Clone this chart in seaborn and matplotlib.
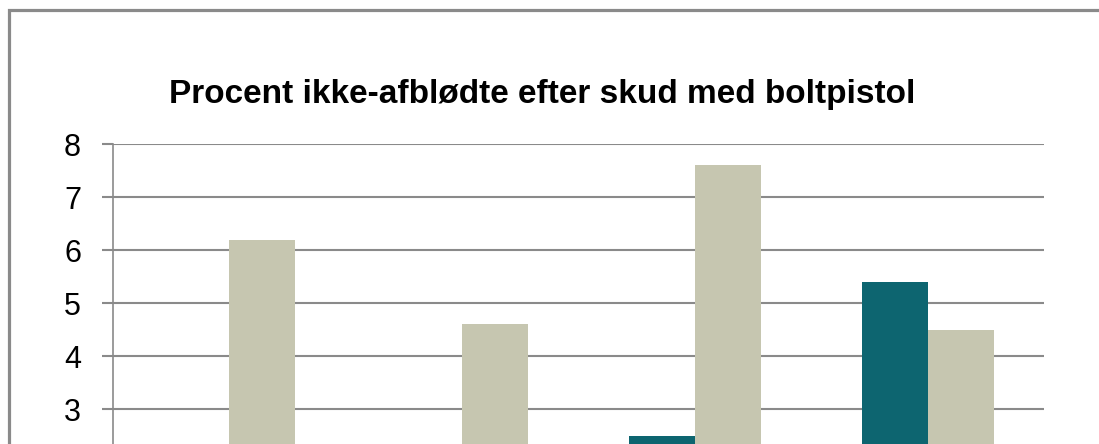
import matplotlib
matplotlib.use("Agg")
import matplotlib.pyplot as plt
from matplotlib.patches import Rectangle
import pandas as pd
import seaborn as sns

# Values (bottom of chart is cut off in the reference,
# so the first two teal bars are below the visible range - estimated)
categories = ["Gruppe 1", "Gruppe 2", "Gruppe 3", "Gruppe 4"]
series_names = ["Serie 1", "Serie 2"]
serie1 = [1.0, 1.5, 2.5, 5.4]
serie2 = [6.2, 4.6, 7.6, 4.5]
y_ticks = [3, 4, 5, 6, 7, 8]  # 0-2 fall below the visible crop
title = "Procent ikke-afblødte efter skud med boltpistol"

df = pd.DataFrame({
    "kategori": categories * 2,
    "serie": [series_names[0]] * 4 + [series_names[1]] * 4,
    "procent": serie1 + serie2,
})

sns.set_style("white")
plt.rcParams["font.family"] = ["Liberation Sans", "DejaVu Sans"]
plt.rcParams["text.color"] = "black"
plt.rcParams["ytick.labelcolor"] = "black"

fig = plt.figure(figsize=(10.99, 4.44), dpi=100)
# axes runs below the bottom of the figure, like the cropped original
ax = fig.add_axes([113 / 1099, -124.3 / 444, 931 / 1099, 424 / 444])

sns.barplot(data=df, x="kategori", y="procent", hue="serie",
            palette=["#0D6570", "#C6C6B0"], width=0.567, saturation=1,
            linewidth=0, edgecolor="none", legend=False, ax=ax, zorder=3)

ax.set_ylim(0, 8)
ax.set_xlim(-0.5, 3.5)
ax.set_yticks(y_ticks)
ax.set_xlabel("")
ax.set_ylabel("")
ax.yaxis.grid(True, color="#8A8A8A", linewidth=1.5, zorder=0)
ax.set_axisbelow(True)
ax.tick_params(axis="y", length=8, width=1.5, color="#8A8A8A",
               labelsize=22, pad=15, left=True, labelcolor="black")
ax.tick_params(axis="x", length=0, labelbottom=False)
for s in ["top", "right", "bottom"]:
    ax.spines[s].set_visible(False)
ax.spines["left"].set_color("#8A8A8A")
ax.spines["left"].set_linewidth(1.2)

fig.text(542 / 1099, 1 - 103 / 444, title, ha="center", va="baseline",
         fontsize=24, fontweight="bold", color="black")

# outer chart frame (only top and left edges visible in the crop)
fig.patches.append(Rectangle((8.5 / 1099, -0.2), 1.2, 1.2 - 10.5 / 444,
                             transform=fig.transFigure, fill=False,
                             edgecolor="#8A8A8A", linewidth=2.3))

fig.savefig("out.png", dpi=100)
